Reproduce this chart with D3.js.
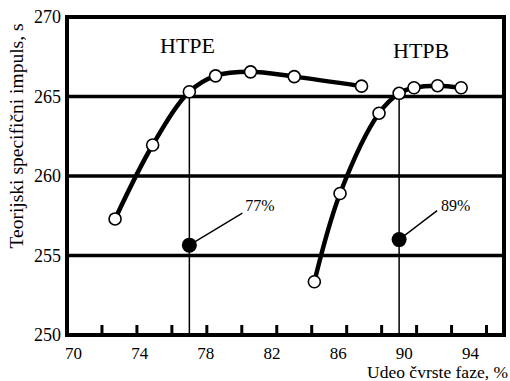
<!DOCTYPE html>
<html>
<head>
<meta charset="utf-8">
<script src="https://cdn.jsdelivr.net/npm/d3@7"></script>
<style>
  html, body { margin: 0; padding: 0; background: #fff; }
  svg, svg text { font-family: "Liberation Serif", "Times New Roman", serif !important; }
</style>
</head>
<body>
<svg id="chart" width="510" height="381"></svg>
<script>
// ---- data ----
const htpeX = [72.75, 74.9, 77.0, 78.5, 80.5, 83.0, 86.85];
const htpeY = [257.3, 261.95, 265.3, 266.3, 266.55, 266.25, 265.65];
const htpbX = [84.15, 85.62, 87.85, 89.0, 89.85, 91.2, 92.55];
const htpbY = [253.35, 258.9, 263.95, 265.2, 265.55, 265.68, 265.55];
const markerX = [77, 89];
const markerY = [255.65, 256.0];
const markerLabels = ["77%", "89%"];
const verticalLineX = [77.0, 89.0];
const verticalLineTop = [265.3, 265.2];
const seriesNames = ["HTPE", "HTPB"];
const yTicks = [250, 255, 260, 265, 270];
const yGrid = [255, 260, 265];
const xTickLabels = [70, 74, 78, 82, 86, 90, 94];
const xTickMarks = [72, 74, 76, 78, 80, 82, 84, 86, 88, 90, 92, 94];
const xTitle = "Udeo čvrste faze, %";
const yTitle = "Teorijski specifični impuls, s";

// ---- layout ----
const FONT = '"Liberation Serif", "Times New Roman", serif';
const svg = d3.select("#chart");
const L = 67, R = 504, T = 17, B = 335;
const x = d3.scaleLinear().domain([70, 95]).range([L, R]);
const y = d3.scaleLinear().domain([250, 270]).range([B, T]);
// tick labels in the original are set on a slightly compressed spacing
const xLab = d3.scaleLinear().domain([70, 94]).range([73, 470]);

// grid lines
svg.append("g").selectAll("line").data(yGrid).join("line")
  .attr("x1", L).attr("x2", R)
  .attr("y1", d => y(d)).attr("y2", d => y(d))
  .attr("stroke", "#000").attr("stroke-width", 3.5);

// tick marks (inward from bottom)
svg.append("g").selectAll("line").data(xTickMarks).join("line")
  .attr("x1", d => x(d)).attr("x2", d => x(d))
  .attr("y1", B).attr("y2", B - 10)
  .attr("stroke", "#000").attr("stroke-width", 3);

// vertical reference lines
svg.append("g").selectAll("line").data(verticalLineX).join("line")
  .attr("x1", d => x(d)).attr("x2", d => x(d))
  .attr("y1", B).attr("y2", (d, i) => y(verticalLineTop[i]))
  .attr("stroke", "#000").attr("stroke-width", 1.5);

// frame
svg.append("rect")
  .attr("x", L).attr("y", T).attr("width", R - L).attr("height", B - T)
  .attr("fill", "none").attr("stroke", "#000").attr("stroke-width", 4);

// axes (labels)
const yAxis = svg.append("g").attr("transform", `translate(${L},0)`)
  .call(d3.axisLeft(y).tickValues(yTicks).tickSize(0).tickPadding(6).tickFormat(d3.format("d")));
yAxis.attr("font-family", null).attr("font-size", null);
yAxis.select(".domain").remove();
yAxis.selectAll("text").style("font-family", FONT).style("font-size", "18px").attr("fill", "#000");

const xAxis = svg.append("g").attr("transform", `translate(0,${B})`)
  .call(d3.axisBottom(xLab).tickValues(xTickLabels).tickSize(0).tickPadding(11.5).tickFormat(d3.format("d")));
xAxis.attr("font-family", null).attr("font-size", null);
xAxis.select(".domain").remove();
xAxis.selectAll("text").style("font-family", FONT).style("font-size", "17px").attr("fill", "#000");

// curves
const line = d3.line().x(d => x(d[0])).y(d => y(d[1])).curve(d3.curveCatmullRom.alpha(0.5));
const series = [
  d3.zip(htpeX, htpeY),
  d3.zip(htpbX, htpbY)
];
series.forEach(pts => {
  svg.append("path").datum(pts).attr("d", line)
    .attr("fill", "none").attr("stroke", "#000").attr("stroke-width", 4.5)
    .attr("stroke-linejoin", "round");
});
series.forEach(pts => {
  svg.append("g").selectAll("circle").data(pts).join("circle")
    .attr("cx", d => x(d[0])).attr("cy", d => y(d[1])).attr("r", 6)
    .attr("fill", "#fff").attr("stroke", "#000").attr("stroke-width", 1.6);
});

// series names
const nameAnchors = [[160, 53], [393, 58]];
seriesNames.forEach((n, i) => {
  svg.append("text").attr("x", nameAnchors[i][0]).attr("y", nameAnchors[i][1])
    .style("font-family", FONT).style("font-size", "22px").text(n);
});

// markers with leader lines
const leader = [[53, -32], [38, -29]];
const labelOff = [[56, -34], [42, -29]];
markerX.forEach((mx, i) => {
  const cx = x(mx), cy = y(markerY[i]);
  svg.append("line").attr("x1", cx).attr("y1", cy)
    .attr("x2", cx + leader[i][0]).attr("y2", cy + leader[i][1])
    .attr("stroke", "#000").attr("stroke-width", 1.4);
  svg.append("circle").attr("cx", cx).attr("cy", cy).attr("r", 7.5).attr("fill", "#000");
  svg.append("text").attr("x", cx + labelOff[i][0]).attr("y", cy + labelOff[i][1])
    .style("font-family", FONT).style("font-size", "16px").text(markerLabels[i]);
});

// axis titles
svg.append("text").attr("x", 508).attr("y", 378).attr("text-anchor", "end")
  .style("font-family", FONT).style("font-size", "17.5px").text(xTitle);
svg.append("text").attr("transform", "translate(23,136) rotate(-90)")
  .attr("text-anchor", "middle")
  .style("font-family", FONT).style("font-size", "19.5px").text(yTitle);
</script>
</body>
</html>
